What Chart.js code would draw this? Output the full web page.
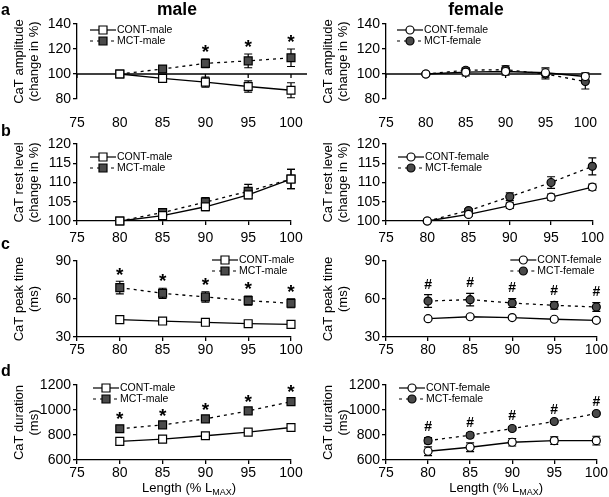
<!DOCTYPE html>
<html>
<head>
<meta charset="utf-8">
<script src="https://cdn.jsdelivr.net/npm/chart.js@4.4.1/dist/chart.umd.min.js"></script>
<style>
  body { margin: 0; background: #fff; }
  #wrap { position: relative; width: 609px; height: 497px; overflow: hidden; font-family: "Liberation Sans", Arial, sans-serif; }
  #wrap canvas { position: absolute; left: 0; top: 0; }
  .letter { position: absolute; font-weight: bold; font-size: 16px; line-height: 16px; }
  .head { position: absolute; font-weight: bold; font-size: 17.5px; line-height: 18px; text-align: center; width: 120px; }
</style>
</head>
<body>
<div id="wrap">
  <canvas id="aMale" width="609" height="497"></canvas>
  <canvas id="aFemale" width="609" height="497"></canvas>
  <canvas id="bMale" width="609" height="497"></canvas>
  <canvas id="bFemale" width="609" height="497"></canvas>
  <canvas id="cMale" width="609" height="497"></canvas>
  <canvas id="cFemale" width="609" height="497"></canvas>
  <canvas id="dMale" width="609" height="497"></canvas>
  <canvas id="dFemale" width="609" height="497"></canvas>
  <div class="head" style="left:117px;top:0px">male</div>
  <div class="head" style="left:416px;top:0px">female</div>
  <div class="letter" style="left:1px;top:2px">a</div>
  <div class="letter" style="left:1px;top:123px">b</div>
  <div class="letter" style="left:1px;top:236px">c</div>
  <div class="letter" style="left:1px;top:363px">d</div>
</div>
<script>
// sarcomere length steps (% Lmax)
const lengths = [80, 85, 90, 95, 100];
const xTicks = [75, 80, 85, 90, 95, 100];

// a - CaT amplitude (change in %)
const ampTicks = [80, 100, 120, 140];
const ampContMale = [100, 96.5, 93.5, 90, 87];
const ampContMaleErr = [1, 2, 4, 4.5, 6];
const ampMctMale = [100, 104, 108.5, 110.5, 113];
const ampMctMaleErr = [1, 1.2, 3.5, 5.5, 7];
const ampMaleSig = ["", "", "*", "*", "*"];
const ampContFemale = [100, 101.5, 102, 101, 98];
const ampContFemaleErr = [1, 3, 3, 4, 3];
const ampMctFemale = [100, 103, 103.5, 100, 94];
const ampMctFemaleErr = [1, 2, 3, 4, 6];
const ampFemaleSig = ["", "", "", "", ""];

// b - CaT rest level (change in %)
const restTicks = [100, 105, 110, 115, 120];
const restContMale = [100, 101.4, 103.7, 106.8, 110.9];
const restContMaleErr = [0.2, 0.5, 1, 1, 2.5];
const restMctMale = [100, 102.2, 104.9, 107.7, 110.9];
const restMctMaleErr = [0.2, 0.5, 1.2, 1.8, 2.5];
const restContFemale = [100, 101.7, 104, 106.2, 108.8];
const restContFemaleErr = [0.2, 0.5, 0.7, 0.8, 0.8];
const restMctFemale = [100, 102.7, 106.3, 110, 114.2];
const restMctFemaleErr = [0.2, 0.5, 1, 1.5, 2.2];

// c - CaT peak time (ms)
const peakTicks = [30, 60, 90];
const peakContMale = [43.7, 42.6, 41.6, 40.5, 40];
const peakContMaleErr = [1, 1, 1, 1, 1];
const peakMctMale = [69, 64.5, 61.6, 58.7, 56.6];
const peakMctMaleErr = [5, 4, 4, 3.5, 3.5];
const peakMaleSig = ["*", "*", "*", "*", "*"];
const peakContFemale = [44.5, 46, 45.3, 44, 43.2];
const peakContFemaleErr = [1, 1, 1, 1, 1];
const peakMctFemale = [58.4, 59.5, 56.8, 55, 53.7];
const peakMctFemaleErr = [5, 5, 3.5, 3, 3.5];
const peakFemaleSig = ["#", "#", "#", "#", "#"];

// d - CaT duration (ms)
const durTicks = [600, 800, 1000, 1200];
const durContMale = [749, 767, 794, 823, 860];
const durContMaleErr = [30, 15, 12, 12, 18];
const durMctMale = [850, 881, 929, 993, 1067];
const durMctMaleErr = [20, 20, 18, 20, 25];
const durMaleSig = ["*", "*", "*", "*", "*"];
const durContFemale = [670, 702, 742, 755, 755];
const durContFemaleErr = [35, 35, 30, 30, 35];
const durMctFemale = [755, 798, 852, 908, 972];
const durMctFemaleErr = [25, 20, 15, 10, 10];
const durFemaleSig = ["#", "#", "#", "#", "#"];

const FONT = '"Liberation Sans", Arial, sans-serif';
const MCT_FILL = "#4a4a4a";

function pts(vals) {
  return vals.map((v, i) => ({ x: lengths[i], y: v }));
}

function marker(ctx, shape, x, y, fill) {
  ctx.save();
  ctx.fillStyle = fill;
  ctx.strokeStyle = "#000";
  ctx.lineWidth = 1.2;
  ctx.setLineDash([]);
  ctx.beginPath();
  if (shape === "rect") ctx.rect(x - 4, y - 4, 8, 8);
  else ctx.arc(x, y, 4, 0, Math.PI * 2);
  ctx.fill();
  ctx.stroke();
  ctx.restore();
}

// error bars, reference line, legend, titles, significance marks
const panelPlugin = {
  id: "panel",
  beforeDatasetsDraw(chart) {
    const { ctx, chartArea, scales } = chart;
    const o = chart.options.plugins.panel;
    ctx.save();
    ctx.strokeStyle = "#000";
    if (o.refLine != null) {
      const y = scales.y.getPixelForValue(o.refLine);
      ctx.lineWidth = 1.3;
      ctx.beginPath();
      ctx.moveTo(chartArea.left, y);
      ctx.lineTo(chartArea.right + 16, y);
      ctx.stroke();
      ctx.beginPath();
      xTicks.forEach(v => {
        const x = scales.x.getPixelForValue(v);
        ctx.moveTo(x, y);
        ctx.lineTo(x, y + 4);
      });
      ctx.stroke();
    }
    ctx.lineWidth = 1.2;
    chart.data.datasets.forEach(ds => {
      ds.data.forEach((p, i) => {
        const x = scales.x.getPixelForValue(p.x);
        const y1 = scales.y.getPixelForValue(p.y + ds.err[i]);
        const y2 = scales.y.getPixelForValue(p.y - ds.err[i]);
        ctx.beginPath();
        ctx.moveTo(x, y1); ctx.lineTo(x, y2);
        ctx.moveTo(x - 4, y1); ctx.lineTo(x + 4, y1);
        ctx.moveTo(x - 4, y2); ctx.lineTo(x + 4, y2);
        ctx.stroke();
      });
    });
    ctx.restore();
  },
  afterDraw(chart) {
    const { ctx, chartArea, scales } = chart;
    const o = chart.options.plugins.panel;
    ctx.save();
    // significance marks above the MCT error bars
    const mct = chart.data.datasets[1];
    ctx.fillStyle = "#000";
    ctx.textAlign = "center";
    ctx.textBaseline = "middle";
    o.sig.forEach((s, i) => {
      if (!s) return;
      const p = mct.data[i];
      const x = scales.x.getPixelForValue(p.x);
      const y = scales.y.getPixelForValue(p.y + mct.err[i]) - 10;
      ctx.font = s === "*" ? "bold 19px " + FONT : "bold 14px " + FONT;
      ctx.fillText(s, x, s === "*" ? y + 4 : y);
    });
    // legend
    const lx = o.legendRight ? chartArea.right + o.legendX : chartArea.left + o.legendX;
    chart.data.datasets.forEach((ds, i) => {
      const y = chartArea.top + o.legendY + i * 11;
      ctx.strokeStyle = "#000";
      ctx.lineWidth = 1.2;
      ctx.setLineDash(ds.borderDash || []);
      ctx.beginPath();
      ctx.moveTo(lx, y); ctx.lineTo(lx + 26, y);
      ctx.stroke();
      ctx.setLineDash([]);
      marker(ctx, ds.pointStyle, lx + 13, y, ds.pointBackgroundColor);
      ctx.fillStyle = "#000";
      ctx.font = "10.5px " + FONT;
      ctx.textAlign = "left";
      ctx.textBaseline = "middle";
      ctx.fillText(ds.label, lx + 27, y + 0.5);
    });
    // y axis title (two lines)
    const cy = (chartArea.top + chartArea.bottom) / 2;
    ctx.font = "13px " + FONT;
    ctx.textAlign = "center";
    ctx.textBaseline = "middle";
    o.yTitle.forEach((t, i) => {
      ctx.save();
      ctx.translate(chartArea.left - 58 + i * 15, cy);
      ctx.rotate(-Math.PI / 2);
      ctx.fillText(t, 0, 0);
      ctx.restore();
    });
    // x axis title
    if (o.xTitle) {
      const main = "Length (% L";
      const sub = "MAX";
      const end = ")";
      ctx.font = "13px " + FONT;
      const w1 = ctx.measureText(main).width;
      const w3 = ctx.measureText(end).width;
      ctx.font = "9px " + FONT;
      const w2 = ctx.measureText(sub).width;
      let x = (chartArea.left + chartArea.right) / 2 + 5 - (w1 + w2 + w3) / 2;
      const by = 492;
      ctx.textAlign = "left";
      ctx.textBaseline = "alphabetic";
      ctx.font = "13px " + FONT;
      ctx.fillText(main, x, by);
      ctx.font = "9px " + FONT;
      ctx.fillText(sub, x + w1, by + 3);
      ctx.font = "13px " + FONT;
      ctx.fillText(end, x + w1 + w2, by);
    }
    ctx.restore();
  }
};

function makePanel(id, cfg) {
  const shape = cfg.female ? "circle" : "rect";
  const r = cfg.female ? 4 : 5.6;
  const [left, right, top, bottom] = cfg.box;
  const ds = (label, vals, err, dashed) => ({
    label: label,
    data: pts(vals),
    err: err,
    borderColor: "#000",
    borderWidth: 1.3,
    borderDash: dashed ? [3, 4] : [],
    pointStyle: shape,
    pointRadius: r,
    pointBorderColor: "#000",
    pointBorderWidth: 1.2,
    pointBackgroundColor: dashed ? MCT_FILL : "#fff",
    clip: false,
    tension: 0
  });
  new Chart(document.getElementById(id), {
    type: "line",
    data: {
      datasets: [
        ds(cfg.names[0], cfg.cont, cfg.contErr, false),
        ds(cfg.names[1], cfg.mct, cfg.mctErr, true)
      ]
    },
    options: {
      responsive: false,
      animation: false,
      events: [],
      layout: { padding: { left: left - 40, right: 609 - right, top: top, bottom: 497 - bottom - 30 } },
      plugins: {
        legend: { display: false },
        tooltip: { enabled: false },
        panel: cfg.panel
      },
      scales: {
        x: {
          type: "linear",
          min: 75,
          max: 100,
          afterFit: s => { s.height = 30; },
          afterBuildTicks: s => { s.ticks = xTicks.map(v => ({ value: v })); },
          ticks: { color: "#000", font: { family: FONT, size: 14 }, padding: cfg.xPad, maxRotation: 0, autoSkip: false, callback: v => String(v) },
          grid: { display: !cfg.panel.refLineAxis, drawOnChartArea: false, tickLength: 4, color: "#000", lineWidth: 1.3 },
          border: { display: !cfg.panel.refLineAxis, color: "#000", width: 1.3 }
        },
        y: {
          min: cfg.yTicks[0],
          max: cfg.yTicks[cfg.yTicks.length - 1],
          afterFit: s => { s.width = 40; },
          afterBuildTicks: s => { s.ticks = cfg.yTicks.map(v => ({ value: v })); },
          ticks: { color: "#000", font: { family: FONT, size: 14 }, padding: 2, autoSkip: false, callback: v => String(v) },
          grid: { drawOnChartArea: false, tickLength: 4, color: "#000", lineWidth: 1.3 },
          border: { color: "#000", width: 1.3 }
        }
      }
    },
    plugins: [panelPlugin]
  });
}

const maleNames = ["CONT-male", "MCT-male"];
const femaleNames = ["CONT-female", "MCT-female"];
const LEFT = [77, 291];
const RIGHT = [386, 599];

makePanel("aMale", {
  box: [...LEFT, 24, 99], yTicks: ampTicks, names: maleNames, xPad: 12,
  cont: ampContMale, contErr: ampContMaleErr, mct: ampMctMale, mctErr: ampMctMaleErr,
  panel: { refLine: 100, refLineAxis: true, sig: ampMaleSig, legendX: 13, legendY: 6, yTitle: ["CaT amplitude", "(change in %)"] }
});
makePanel("aFemale", {
  box: [...RIGHT, 24, 99], yTicks: ampTicks, names: femaleNames, xPad: 12, female: true,
  cont: ampContFemale, contErr: ampContFemaleErr, mct: ampMctFemale, mctErr: ampMctFemaleErr,
  panel: { refLine: 100, refLineAxis: true, sig: ampFemaleSig, legendX: 11, legendY: 6, yTitle: ["CaT amplitude", "(change in %)"] }
});
makePanel("bMale", {
  box: [...LEFT, 144, 221], yTicks: restTicks, names: maleNames, xPad: 5,
  cont: restContMale, contErr: restContMaleErr, mct: restMctMale, mctErr: restMctMaleErr,
  panel: { refLine: null, sig: ["", "", "", "", ""], legendX: 13, legendY: 13, yTitle: ["CaT rest level", "(change in %)"] }
});
makePanel("bFemale", {
  box: [...RIGHT, 144, 221], yTicks: restTicks, names: femaleNames, xPad: 5, female: true,
  cont: restContFemale, contErr: restContFemaleErr, mct: restMctFemale, mctErr: restMctFemaleErr,
  panel: { refLine: null, sig: ["", "", "", "", ""], legendX: 12, legendY: 13, yTitle: ["CaT rest level", "(change in %)"] }
});
makePanel("cMale", {
  box: [...LEFT, 261, 337], yTicks: peakTicks, names: maleNames, xPad: 1,
  cont: peakContMale, contErr: peakContMaleErr, mct: peakMctMale, mctErr: peakMctMaleErr,
  panel: { refLine: null, sig: peakMaleSig, legendRight: true, legendX: -79, legendY: -1, yTitle: ["CaT peak time", "(ms)"] }
});
makePanel("cFemale", {
  box: [...RIGHT, 261, 337], yTicks: peakTicks, names: femaleNames, xPad: 1, female: true,
  cont: peakContFemale, contErr: peakContFemaleErr, mct: peakMctFemale, mctErr: peakMctFemaleErr,
  panel: { refLine: null, sig: peakFemaleSig, legendRight: true, legendX: -86, legendY: -1, yTitle: ["CaT peak time", "(ms)"] }
});
makePanel("dMale", {
  box: [...LEFT, 385, 460], yTicks: durTicks, names: maleNames, xPad: 1,
  cont: durContMale, contErr: durContMaleErr, mct: durMctMale, mctErr: durMctMaleErr,
  panel: { refLine: null, sig: durMaleSig, legendX: 16, legendY: 3, yTitle: ["CaT duration", "(ms)"], xTitle: true }
});
makePanel("dFemale", {
  box: [...RIGHT, 385, 460], yTicks: durTicks, names: femaleNames, xPad: 1, female: true,
  cont: durContFemale, contErr: durContFemaleErr, mct: durMctFemale, mctErr: durMctFemaleErr,
  panel: { refLine: null, sig: durFemaleSig, legendX: 13, legendY: 3, yTitle: ["CaT duration", "(ms)"], xTitle: true }
});
</script>
</body>
</html>
